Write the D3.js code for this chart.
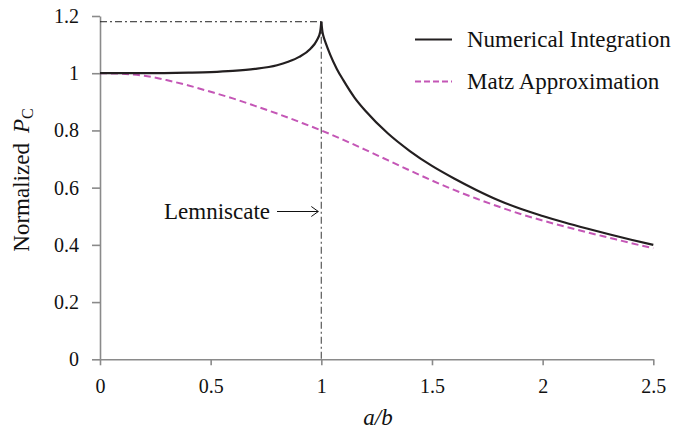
<html>
<head>
	<style>
		body { margin:0; padding:0; background:#fff; }
		.tick text { font-family:"Liberation Serif", "Times New Roman", serif; font-size:20px; fill:#111; }
		.domain, .tick line { stroke:#8a8a8a; stroke-width:1.6; }
		.lbl { font-family:"Liberation Serif", "Times New Roman", serif; fill:#111; }
	</style>
</head>
<body>
	<svg width="687" height="434"></svg>
	<script src="https://d3js.org/d3.v7.min.js"></script>
	<script>

		// numerical integration
		var numX = [0, 0.2, 0.4, 0.5, 0.6, 0.7, 0.8, 0.85, 0.9, 0.95, 0.98, 0.995, 1.0,
			1.005, 1.01, 1.02, 1.04, 1.07, 1.1, 1.15, 1.2, 1.3, 1.4, 1.5, 1.6, 1.7, 1.8, 1.9, 2.0, 2.1, 2.2, 2.3, 2.4, 2.5];
		var numY = [1.0, 1.0, 1.002, 1.004, 1.008, 1.015, 1.028, 1.04, 1.057, 1.085, 1.115, 1.145, 1.18,
			1.145, 1.128, 1.105, 1.065, 1.015, 0.975, 0.915, 0.868, 0.79, 0.728, 0.676, 0.632, 0.592, 0.556, 0.526, 0.501, 0.478, 0.457, 0.437, 0.418, 0.400];

		// Matz approximation
		var matzX = [0, 0.1, 0.2, 0.3, 0.4, 0.5, 0.6, 0.7, 0.8, 0.9, 1.0, 1.1, 1.2, 1.3, 1.4, 1.5, 1.6, 1.7, 1.8, 1.9, 2.0, 2.1, 2.2, 2.3, 2.4, 2.5];
		var matzY = [1.0, 0.998, 0.991, 0.976, 0.957, 0.935, 0.912, 0.886, 0.859, 0.83, 0.80, 0.767, 0.732, 0.696, 0.66, 0.625, 0.592, 0.562, 0.534, 0.508, 0.485, 0.464, 0.444, 0.425, 0.406, 0.388];

		var xTicks = [0, 0.5, 1, 1.5, 2, 2.5];
		var yTicks = [0, 0.2, 0.4, 0.6, 0.8, 1, 1.2];
		var seriesNames = ["Numerical Integration", "Matz Approximation"];
		var seriesColours = ["#231f20", "#c456b6"];
		var lemniscateX = 1;
		var peakY = 1.18;

		var svg = d3.select("svg");

		var x = d3.scaleLinear().domain([0, 2.5]).range([100, 653.3]);
		var y = d3.scaleLinear().domain([0, 1.2]).range([359.3, 16]);

		// assi
		var xAxis = d3.axisBottom(x).tickValues(xTicks).tickSizeInner(6).tickSizeOuter(0).tickPadding(14)
			.tickFormat(function(d){ return String(d) });
		var yAxis = d3.axisLeft(y).tickValues(yTicks).tickSizeInner(8).tickSizeOuter(0).tickPadding(13)
			.tickFormat(function(d){ return String(d) });

		svg.append("g").attr("transform", "translate(0," + y(0) + ")").call(xAxis);
		svg.append("g").attr("transform", "translate(" + x(0) + ",0)").call(yAxis);

		// linee di riferimento
		svg.append("line")
			.attr("x1", x(0)).attr("x2", x(lemniscateX))
			.attr("y1", y(peakY)).attr("y2", y(peakY))
			.attr("stroke", "#222").attr("stroke-width", 1)
			.attr("stroke-dasharray", "7,3,2,3");
		svg.append("line")
			.attr("x1", x(lemniscateX)).attr("x2", x(lemniscateX))
			.attr("y1", y(peakY)).attr("y2", y(0))
			.attr("stroke", "#666").attr("stroke-width", 1.3)
			.attr("stroke-dasharray", "7,3,2,3");

		var line = d3.line()
			.x(function(d){ return x(d[0]) })
			.y(function(d){ return y(d[1]) })
			.curve(d3.curveMonotoneX);

		var numData = numX.map(function(d, i){ return [d, numY[i]] });
		var matzData = matzX.map(function(d, i){ return [d, matzY[i]] });

		// cuspide: due tratti separati
		var left = numData.filter(function(d){ return d[0] <= lemniscateX });
		var right = numData.filter(function(d){ return d[0] >= lemniscateX });

		svg.append("path").datum(matzData)
			.attr("d", line).attr("fill", "none")
			.attr("stroke", seriesColours[1]).attr("stroke-width", 2)
			.attr("stroke-dasharray", "7,4");

		[left, right].forEach(function(seg){
			svg.append("path").datum(seg)
				.attr("d", line).attr("fill", "none")
				.attr("stroke", seriesColours[0]).attr("stroke-width", 2.2);
		});

		// legenda
		var legend = svg.append("g");
		seriesNames.forEach(function(name, i){
			var ly = 39.5 + i * 42;
			legend.append("line")
				.attr("x1", 415).attr("x2", 452).attr("y1", ly).attr("y2", ly)
				.attr("stroke", seriesColours[i]).attr("stroke-width", 2)
				.attr("stroke-dasharray", i == 1 ? "6,3" : null);
			legend.append("text").attr("class", "lbl")
				.attr("x", 467).attr("y", ly + 7)
				.style("font-size", "23px")
				.text(name);
		});

		// annotazione
		svg.append("text").attr("class", "lbl")
			.attr("x", 270).attr("y", 218.5)
			.attr("text-anchor", "end")
			.style("font-size", "23px")
			.text("Lemniscate");
		var ay = 211.5;
		svg.append("line")
			.attr("x1", 277).attr("x2", x(lemniscateX) - 3).attr("y1", ay).attr("y2", ay)
			.attr("stroke", "#111").attr("stroke-width", 1);
		svg.append("path")
			.attr("d", "M" + (x(lemniscateX) - 10) + "," + (ay - 5) + " L" + (x(lemniscateX) - 3) + "," + ay + " L" + (x(lemniscateX) - 10) + "," + (ay + 5))
			.attr("fill", "none").attr("stroke", "#111").attr("stroke-width", 1);

		// titoli assi
		var yl = svg.append("text").attr("class", "lbl")
			.attr("transform", "translate(29,180) rotate(-90)")
			.attr("text-anchor", "middle")
			.style("font-size", "23px");
		yl.append("tspan").text("Normalized");
		yl.append("tspan").attr("dx", 10).style("font-style", "italic").text("P");
		yl.append("tspan").attr("dy", 4).style("font-size", "16px").text("C");

		svg.append("text").attr("class", "lbl")
			.attr("x", 378).attr("y", 425)
			.attr("text-anchor", "middle")
			.style("font-size", "23px").style("font-style", "italic")
			.text("a/b");

	</script>
</body>
</html>
